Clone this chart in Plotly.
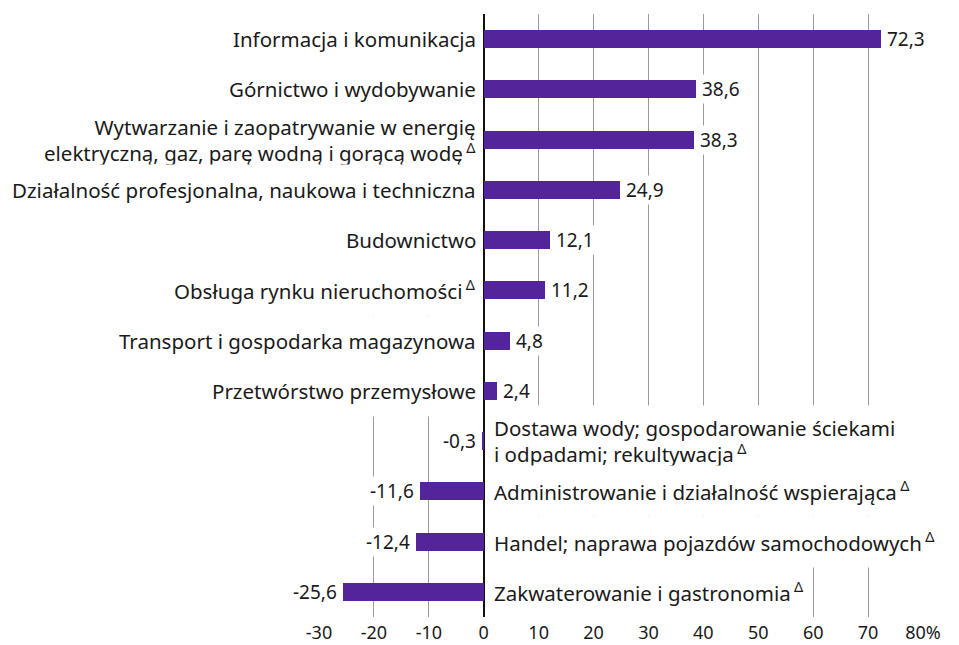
import plotly.graph_objects as go

categories = [
    "Informacja i komunikacja",
    "Górnictwo i wydobywanie",
    "Wytwarzanie i zaopatrywanie w energię<br>elektryczną, gaz, parę wodną i gorącą wodę",
    "Działalność profesjonalna, naukowa i techniczna",
    "Budownictwo",
    "Obsługa rynku nieruchomości",
    "Transport i gospodarka magazynowa",
    "Przetwórstwo przemysłowe",
    "Dostawa wody; gospodarowanie ściekami<br>i odpadami; rekultywacja",
    "Administrowanie i działalność wspierająca",
    "Handel; naprawa pojazdów samochodowych",
    "Zakwaterowanie i gastronomia",
]
values = [72.3, 38.6, 38.3, 24.9, 12.1, 11.2, 4.8, 2.4, -0.3, -11.6, -12.4, -25.6]
delta_flag = [False, False, True, False, False, True, False, False, True, True, True, True]
tick_vals = [-30, -20, -10, 0, 10, 20, 30, 40, 50, 60, 70, 80]
tick_text = ["-30", "-20", "-10", "0", "10", "20", "30", "40", "50", "60", "70", "80%"]

FONT = "Noto Sans"
FS_CAT = 20.5
FS_VAL = 19
FS_TICK = 18
TXT = "#1a1a1a"
BAR = "#53249A"

ypos = list(range(len(categories)))

fig = go.Figure()
fig.add_trace(go.Bar(
    x=values, y=ypos, orientation="h", width=0.36,
    marker=dict(color=BAR, line=dict(width=0)),
    hoverinfo="skip",
))

annotations = []
for i, (cat, v, d) in enumerate(zip(categories, values, delta_flag)):
    label = cat + ("\u2009<sup>Δ</sup>" if d else "")
    pos = v >= 0
    two_lines = "<br>" in cat
    annotations.append(dict(
        x=0, y=i, xref="x", yref="y", text=label, showarrow=False,
        xanchor="right" if pos else "left",
        align="right" if pos else "left",
        valign="middle",
        height=66 if two_lines else 46,
        xshift=-5 if pos else 7,
        font=dict(family=FONT, size=FS_CAT, color=TXT),
        bgcolor="white", borderpad=2,
    ))
    annotations.append(dict(
        x=v, y=i, xref="x", yref="y",
        text=f"{v:.1f}".replace(".", ","), showarrow=False,
        xanchor="left" if pos else "right",
        xshift=4 if pos else -4,
        font=dict(family=FONT, size=FS_VAL, color=TXT),
        bgcolor="white", borderpad=1,
    ))

fig.update_layout(
    width=951, height=637,
    margin=dict(l=311, r=36, t=6, b=28),
    plot_bgcolor="white", paper_bgcolor="white",
    showlegend=False,
    annotations=annotations,
    bargap=0,
)
fig.update_xaxes(
    range=[-30, 80], tickvals=tick_vals, ticktext=tick_text,
    showgrid=True, gridcolor="#9a9a9a", gridwidth=1,
    zeroline=True, zerolinecolor="#111111", zerolinewidth=1.5,
    showline=False, ticks="", ticklabelstandoff=3, automargin=False,
    tickfont=dict(family=FONT, size=FS_TICK, color=TXT),
    fixedrange=True,
)
fig.update_yaxes(
    range=[len(categories) - 0.5, -0.5],
    showticklabels=False, showgrid=False, zeroline=False, showline=False,
    automargin=False, fixedrange=True,
)

fig.write_html("out.html")
